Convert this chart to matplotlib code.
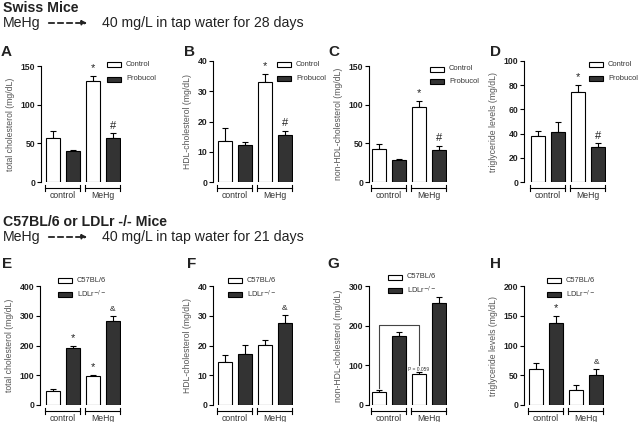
import matplotlib
matplotlib.use('Agg')
import matplotlib.pyplot as plt
from matplotlib.patches import Rectangle, FancyArrowPatch

plt.rcParams['font.family'] = ['Liberation Sans', 'DejaVu Sans']

W, H = 640, 422

# data: order = control/grp1, control/grp2, MeHg/grp1, MeHg/grp2
groups = ['control', 'MeHg']
top_series = ['Control', 'Probucol']
bottom_series = ['C57BL/6', 'LDLr$^{-/-}$']

A_mean = [57, 40, 130, 57]
A_err = [9, 2, 7, 6]
B_mean = [13.4, 12.2, 32.9, 15.4]
B_err = [4.5, 1.1, 2.9, 1.5]
C_mean = [43, 28, 97, 41]
C_err = [6, 2, 8, 6]
D_mean = [37.7, 41, 74, 29]
D_err = [4.2, 8.3, 6, 3]
E_mean = [47, 190, 98, 282]
E_err = [5.5, 8, 4, 17]
F_mean = [14.5, 17.3, 20.1, 27.7]
F_err = [2.3, 2.8, 1.8, 2.7]
G_mean = [33.5, 174, 77, 256]
G_err = [5, 9, 5, 16]
H_mean = [60, 138.5, 26, 50]
H_err = [10, 11.5, 7.5, 11]

# panel: letter, means, errs, ylabel, ymax, yticks, marks, series,
#        axis x px, top px, bottom px, x lower limit, letter pos, legend pos
panels = [
    ('A', A_mean, A_err, 'total cholesterol (mg/dL)', 150, [0, 50, 100, 150],
     {2: '*', 3: '#'}, top_series, 41, 66, 182, -0.6, (1, 52), (107, 64.5, 79)),
    ('B', B_mean, B_err, 'HDL-cholesterol (mg/dL)', 40, [0, 10, 20, 30, 40],
     {2: '*', 3: '#'}, top_series, 213, 61, 182, -0.6, (184, 52), (277, 64.5, 78)),
    ('C', C_mean, C_err, 'non-HDL-cholesterol (mg/dL)', 150, [0, 50, 100, 150],
     {2: '*', 3: '#'}, top_series, 369, 66, 182, -0.5, (328, 52), (430, 69, 81.5)),
    ('D', D_mean, D_err, 'triglyceride levels (mg/dL)', 100, [0, 20, 40, 60, 80, 100],
     {2: '*', 3: '#'}, top_series, 524, 61, 182, -0.7, (490, 52), (589, 64.5, 78)),
    ('E', E_mean, E_err, 'total cholesterol (mg/dL)', 400, [0, 100, 200, 300, 400],
     {1: '*', 2: '*', 3: '&'}, bottom_series, 40, 286, 405, -0.65, (2, 264), (58, 280.5, 294.5)),
    ('F', F_mean, F_err, 'HDL-cholesterol (mg/dL)', 40, [0, 10, 20, 30, 40],
     {3: '&'}, bottom_series, 213, 286, 405, -0.6, (187, 264), (228, 280.5, 294.5)),
    ('G', G_mean, G_err, 'non-HDL-cholesterol (mg/dL)', 300, [0, 100, 200, 300],
     {}, bottom_series, 369, 286, 405, -0.5, (327, 264), (388, 277, 290.5)),
    ('H', H_mean, H_err, 'triglyceride levels (mg/dL)', 200, [0, 50, 100, 150, 200],
     {1: '*', 3: '&'}, bottom_series, 524, 286, 405, -0.6, (490, 264), (547, 280.5, 294.5)),
]

fig = plt.figure(figsize=(6.4, 4.22), dpi=100)


def fx(x):
    return x / W


def fy(y):
    return 1 - y / H


# headers
for y0, title, days in [(8, 'Swiss Mice', 28), (222, 'C57BL/6 or LDLr -/- Mice', 21)]:
    fig.text(fx(3), fy(y0), title, fontsize=10.2, fontweight='bold', color='#222',
             va='center', ha='left')
    fig.text(fx(3), fy(y0 + 15), 'MeHg', fontsize=10.2, color='#222', va='center')
    arr = FancyArrowPatch((fx(46), fy(y0 + 15)), (fx(90), fy(y0 + 15)),
                          transform=fig.transFigure, arrowstyle='-|>', mutation_scale=7,
                          linestyle=(0, (3, 2)), color='#222', lw=1.3)
    fig.add_artist(arr)
    fig.text(fx(102), fy(y0 + 15), '40 mg/L in tap water for %d days' % days,
             fontsize=10.2, color='#222', va='center')

xpos = [0, 1, 2, 3]
colors = ['white', '#333333']

for (letter, mean, err, ylabel, ymax, yticks, marks, series,
     axx, ytop, ybot, lo, lpos, lg) in panels:
    hi = 3.4
    wpx = (hi - lo) * 20
    hpx = ybot - ytop
    ax = fig.add_axes([fx(axx), fy(ybot), wpx / W, hpx / H])
    ax.bar(xpos, mean, width=0.68, color=[colors[i % 2] for i in range(4)],
           edgecolor='black', linewidth=0.8, zorder=2)
    ax.errorbar(xpos, mean, yerr=[[0] * 4, err], fmt='none', ecolor='black',
                elinewidth=0.8, capsize=2.5, capthick=0.8, zorder=1)
    ax.set_xlim(lo, hi)
    ax.set_ylim(0, ymax)
    ax.set_yticks(yticks)
    ax.set_xticks([])
    for s in ['top', 'right', 'bottom']:
        ax.spines[s].set_visible(False)
    ax.spines['left'].set_linewidth(0.8)
    ax.tick_params(axis='y', length=3, width=0.8, labelsize=6.2, pad=1)
    for t in ax.get_yticklabels():
        t.set_fontweight('bold')
        t.set_color('#222')
    ax.set_ylabel(ylabel, fontsize=6.2, color='#555', labelpad=4)

    # group brackets below the bars
    tr = ax.get_xaxis_transform()
    yb = -6 / hpx
    tk = 3 / hpx
    for gi, (x0, x1) in enumerate([(-0.4, 1.35), (1.6, 3.35)]):
        ax.plot([x0, x1], [yb, yb], color='black', lw=0.8, transform=tr, clip_on=False)
        for xe in (x0, x1):
            ax.plot([xe, xe], [yb - tk, yb + tk], color='black', lw=0.8,
                    transform=tr, clip_on=False)
        ax.text((x0 + x1) / 2, yb - 7.5 / hpx, groups[gi], transform=tr, ha='center',
                va='center', fontsize=6.2, color='#333')

    # significance marks
    for i, m in marks.items():
        fs = 6 if m == '&' else 8
        ax.annotate(m, (xpos[i], mean[i] + err[i]), xytext=(0, 2),
                    textcoords='offset points', ha='center', va='bottom',
                    fontsize=fs, color='#222')

    if letter == 'G':
        ax.plot([0, 0, 2, 2], [mean[0] + err[0] + 4, 201, 201, mean[2] + err[2] + 19],
                color='#444', lw=0.8, zorder=3)
        ax.text(2, mean[2] + err[2] + 8, 'P = 0.059', ha='center', va='center',
                fontsize=3.5, color='#333')

    fig.text(fx(lpos[0]), fy(lpos[1]), letter, fontsize=11, fontweight='bold',
             color='#222', va='center', ha='left')

    # legend
    lx, ly1, ly2 = lg
    for j, yy in enumerate([ly1, ly2]):
        fig.add_artist(Rectangle((fx(lx), fy(yy + 2.5)), 14 / W, 5 / H,
                                 transform=fig.transFigure, facecolor=colors[j],
                                 edgecolor='black', linewidth=0.8))
        fig.text(fx(lx + 19), fy(yy), series[j], fontsize=5.4, color='#333',
                 va='center', ha='left')

fig.savefig('out.png', dpi=100)
